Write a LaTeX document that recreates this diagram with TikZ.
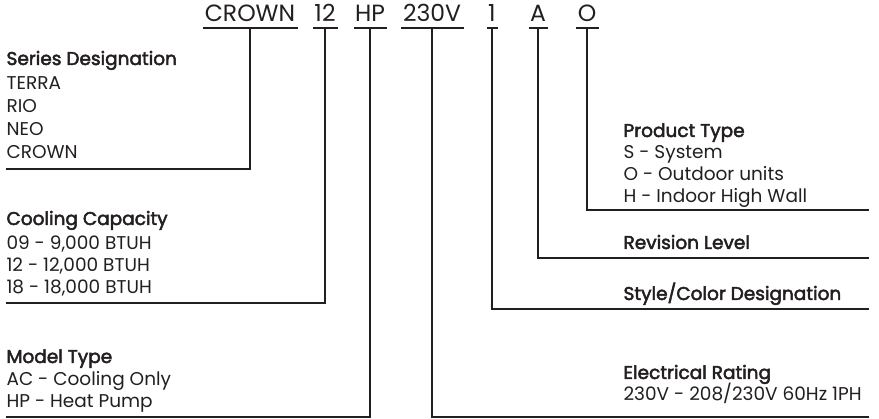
\documentclass[tikz,border=0pt]{standalone}
\usepackage{fontspec}
\setmainfont{Poppins}[BoldFont=Poppins, BoldFeatures={FakeBold=2.6}]
\definecolor{ink}{HTML}{231F20}
\begin{document}
\begin{tikzpicture}[x=1pt, y=-1pt, line width=1.1pt, draw=ink,
    code/.style={font=\fontsize{23.5}{23.5}\selectfont, anchor=base, inner sep=0pt, text=ink},
    head/.style={font=\fontsize{18.5}{18.5}\selectfont\bfseries, anchor=base west, inner sep=0pt, text=ink},
    item/.style={font=\fontsize{18.5}{18.5}\selectfont, anchor=base west, inner sep=0pt, text=ink}]
\useasboundingbox (0,0) rectangle (879,419);

% the model number, underlined piece by piece
\foreach \n/\x/\t in {crown/250/CROWN, cap/325/12, type/370/HP, volt/432/230V, style/492/1, rev/538/A, prod/587/O}
{
    \node[code] (\n) at (\x,22) {\t};
    \draw ([xshift=-1pt,yshift=-6pt]\n.base west)--([xshift=2pt,yshift=-6pt]\n.base east);
    \coordinate (\n-u) at ([yshift=-6pt]\n.base);
}

% left side
\node[head] (ser) at (6,65) {Series Designation};
\foreach \t [count=\i] in {TERRA,RIO,NEO,CROWN}
    \node[item] (ser-\i) at (6,67+23*\i) {\t};
\coordinate (ser-end) at (6,169);
\draw (crown-u) |- (ser-end);

\node[head] (cool) at (6,225) {Cooling Capacity};
\foreach \t [count=\i] in {{09 - 9,000 BTUH},{12 - 12,000 BTUH},{18 - 18,000 BTUH}}
    \node[item] (cool-\i) at (6,228+22*\i) {\t};
\coordinate (cool-end) at (6,303);
\draw (cap-u) |- (cool-end);

\node[head] (model) at (6,363) {Model Type};
\foreach \t [count=\i] in {AC - Cooling Only,HP - Heat Pump}
    \node[item] (model-\i) at (6,363+22.5*\i) {\t};
\coordinate (model-end) at (6,417);
\draw (type-u) |- (model-end);

% right side
\node[head] (ptype) at (623,137) {Product Type};
\foreach \t [count=\i] in {S - System,O - Outdoor units,H - Indoor High Wall}
    \node[item] (ptype-\i) at (623,137+22*\i) {\t};
\coordinate (ptype-end) at (869,210);
\draw (prod-u) |- (ptype-end);

\node[head] (revlvl) at (623,249) {Revision Level};
\coordinate (revlvl-end) at (869,258);
\draw (rev-u) |- (revlvl-end);

\node[head] (color) at (623,300) {Style/Color Designation};
\coordinate (color-end) at (869,309);
\draw (style-u) |- (color-end);

\node[head] (elec) at (623,379) {Electrical Rating};
\node[item] (elec-1) at (623,401) {230V - 208/230V 60Hz 1PH};
\coordinate (elec-end) at (869,417);
\draw (volt-u) |- (elec-end);
\end{tikzpicture}
\end{document}
